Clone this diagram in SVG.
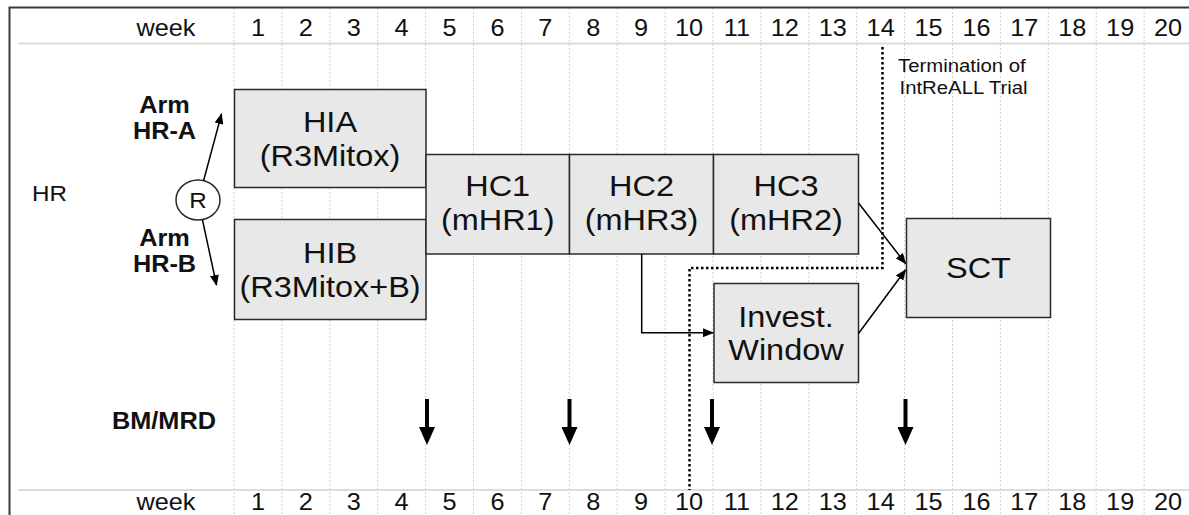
<svg xmlns="http://www.w3.org/2000/svg" width="1189" height="515" viewBox="0 0 1189 515">
<style>
.t{font-family:"Liberation Sans",Arial,sans-serif;fill:#111;text-anchor:middle;transform-box:fill-box;transform-origin:50% 50%;transform:scaleX(1.1)}
.l{text-anchor:start;transform-origin:0% 50%}
.wk{font-size:23px}
.bx{font-size:29.5px}
.bd{font-size:23px;font-weight:bold}
.node rect{fill:#e8e8e8;stroke:#2a2a2a;stroke-width:1.5}
.grid line{stroke:#cfcfcf;stroke-width:1;stroke-dasharray:2 2}
.sep{stroke:#dcdcdc;stroke-width:2}
.conn{stroke:#000;stroke-width:1.5;fill:none}
.thick{stroke:#000;stroke-width:4;fill:none}
.term{stroke:#000;stroke-width:2.5;stroke-dasharray:2.5 2.5;fill:none}
</style>
<defs>
<marker id="ah" markerUnits="userSpaceOnUse" markerWidth="11" markerHeight="9" refX="10" refY="4.5" orient="auto">
<path d="M0,0 L11,4.5 L0,9 z" fill="#000"/>
</marker>
<marker id="ahb" markerUnits="userSpaceOnUse" markerWidth="18" markerHeight="16" refX="8" refY="8" orient="auto">
<path d="M0,0 L18,8 L0,16 z" fill="#000"/>
</marker>
</defs>
<rect width="1189" height="515" fill="#fff"/>
<g class="grid">
<line x1="234" y1="8" x2="234" y2="515"/>
<line x1="281.9" y1="8" x2="281.9" y2="515"/>
<line x1="329.8" y1="8" x2="329.8" y2="515"/>
<line x1="377.7" y1="8" x2="377.7" y2="515"/>
<line x1="425.6" y1="8" x2="425.6" y2="515"/>
<line x1="473.5" y1="8" x2="473.5" y2="515"/>
<line x1="521.4" y1="8" x2="521.4" y2="515"/>
<line x1="569.3" y1="8" x2="569.3" y2="515"/>
<line x1="617.2" y1="8" x2="617.2" y2="515"/>
<line x1="665.1" y1="8" x2="665.1" y2="515"/>
<line x1="713" y1="8" x2="713" y2="515"/>
<line x1="760.9" y1="8" x2="760.9" y2="515"/>
<line x1="808.8" y1="8" x2="808.8" y2="515"/>
<line x1="856.7" y1="8" x2="856.7" y2="515"/>
<line x1="904.6" y1="8" x2="904.6" y2="515"/>
<line x1="952.5" y1="8" x2="952.5" y2="515"/>
<line x1="1000.4" y1="8" x2="1000.4" y2="515"/>
<line x1="1048.3" y1="8" x2="1048.3" y2="515"/>
<line x1="1096.2" y1="8" x2="1096.2" y2="515"/>
<line x1="1144.1" y1="8" x2="1144.1" y2="515"/>
</g>
<line class="sep" x1="18" y1="43.5" x2="1189" y2="43.5"/>
<line class="sep" x1="18" y1="490" x2="1189" y2="490"/>
<path d="M9.5,515 V7.5 H1189" fill="none" stroke="#3a3a3a" stroke-width="2"/>
<g id="header-top">
<text class="t wk" x="166" y="36">week</text>
<text class="t wk" x="257.95" y="36">1</text>
<text class="t wk" x="305.85" y="36">2</text>
<text class="t wk" x="353.75" y="36">3</text>
<text class="t wk" x="401.65" y="36">4</text>
<text class="t wk" x="449.55" y="36">5</text>
<text class="t wk" x="497.45" y="36">6</text>
<text class="t wk" x="545.35" y="36">7</text>
<text class="t wk" x="593.25" y="36">8</text>
<text class="t wk" x="641.15" y="36">9</text>
<text class="t wk" x="689.05" y="36">10</text>
<text class="t wk" x="736.95" y="36">11</text>
<text class="t wk" x="784.85" y="36">12</text>
<text class="t wk" x="832.75" y="36">13</text>
<text class="t wk" x="880.65" y="36">14</text>
<text class="t wk" x="928.55" y="36">15</text>
<text class="t wk" x="976.45" y="36">16</text>
<text class="t wk" x="1024.35" y="36">17</text>
<text class="t wk" x="1072.25" y="36">18</text>
<text class="t wk" x="1120.15" y="36">19</text>
<text class="t wk" x="1168.05" y="36">20</text>
</g>
<g id="header-bottom">
<text class="t wk" x="166" y="510">week</text>
<text class="t wk" x="257.95" y="510">1</text>
<text class="t wk" x="305.85" y="510">2</text>
<text class="t wk" x="353.75" y="510">3</text>
<text class="t wk" x="401.65" y="510">4</text>
<text class="t wk" x="449.55" y="510">5</text>
<text class="t wk" x="497.45" y="510">6</text>
<text class="t wk" x="545.35" y="510">7</text>
<text class="t wk" x="593.25" y="510">8</text>
<text class="t wk" x="641.15" y="510">9</text>
<text class="t wk" x="689.05" y="510">10</text>
<text class="t wk" x="736.95" y="510">11</text>
<text class="t wk" x="784.85" y="510">12</text>
<text class="t wk" x="832.75" y="510">13</text>
<text class="t wk" x="880.65" y="510">14</text>
<text class="t wk" x="928.55" y="510">15</text>
<text class="t wk" x="976.45" y="510">16</text>
<text class="t wk" x="1024.35" y="510">17</text>
<text class="t wk" x="1072.25" y="510">18</text>
<text class="t wk" x="1120.15" y="510">19</text>
<text class="t wk" x="1168.05" y="510">20</text>
</g>
<g id="labels">
<text class="t" x="49.5" y="201.5" font-size="22">HR</text>
<text class="t bd" x="164.5" y="113">Arm</text>
<text class="t bd" x="164.5" y="139">HR-A</text>
<text class="t bd" x="164.5" y="246">Arm</text>
<text class="t bd" x="164.5" y="272">HR-B</text>
<text class="t bd" x="164" y="429.5">BM/MRD</text>
<text class="t l" x="898" y="72" font-size="18.5">Termination of</text>
<text class="t l" x="899.5" y="94.5" font-size="18.5">IntReALL Trial</text>
</g>
<g id="termination-line">
<path class="term" d="M882.5,47 V268 H689.5 V490"/>
</g>
<g id="R" class="node">
<ellipse cx="198" cy="200" rx="22" ry="20" fill="#fff" stroke="#2a2a2a" stroke-width="1.5"/>
<text class="t" x="198" y="208.5" font-size="22">R</text>
</g>
<g id="HIA" class="node">
<rect x="234.5" y="89.5" width="191.5" height="98"/>
<text class="t bx" x="330" y="132">HIA</text>
<text class="t bx" x="330" y="166">(R3Mitox)</text>
</g>
<g id="HIB" class="node">
<rect x="234.5" y="219.5" width="191.5" height="100"/>
<text class="t bx" x="330" y="263">HIB</text>
<text class="t bx" x="330" y="297">(R3Mitox+B)</text>
</g>
<g id="HC1" class="node">
<rect x="426" y="154.5" width="143.5" height="99.5"/>
<text class="t bx" x="497.7" y="196.5">HC1</text>
<text class="t bx" x="497.7" y="230.5">(mHR1)</text>
</g>
<g id="HC2" class="node">
<rect x="569.5" y="154.5" width="144" height="99.5"/>
<text class="t bx" x="641.5" y="196.5">HC2</text>
<text class="t bx" x="641.5" y="230.5">(mHR3)</text>
</g>
<g id="HC3" class="node">
<rect x="713.5" y="154.5" width="145" height="99.5"/>
<text class="t bx" x="786" y="196.5">HC3</text>
<text class="t bx" x="786" y="230.5">(mHR2)</text>
</g>
<g id="InvestWindow" class="node">
<rect x="714" y="283.5" width="144.5" height="99"/>
<text class="t bx" x="786" y="327">Invest.</text>
<text class="t bx" x="786" y="360">Window</text>
</g>
<g id="SCT" class="node">
<rect x="906.5" y="218.5" width="144" height="99"/>
<text class="t bx" x="978.5" y="278.5">SCT</text>
</g>
<g id="connectors">
<line class="conn" x1="203.5" y1="181" x2="221.5" y2="114" marker-end="url(#ah)"/>
<line class="conn" x1="202.5" y1="220" x2="216.5" y2="285" marker-end="url(#ah)"/>
<path class="conn" d="M641.7,254 V332.7 H713" marker-end="url(#ah)"/>
<line class="conn" x1="858.5" y1="203" x2="905.5" y2="263.5" marker-end="url(#ah)"/>
<line class="conn" x1="858.5" y1="333.5" x2="905.5" y2="270" marker-end="url(#ah)"/>
<line class="thick" x1="427" y1="399" x2="427" y2="435" marker-end="url(#ahb)"/>
<line class="thick" x1="569.5" y1="399" x2="569.5" y2="435" marker-end="url(#ahb)"/>
<line class="thick" x1="712" y1="399" x2="712" y2="435" marker-end="url(#ahb)"/>
<line class="thick" x1="905.5" y1="399" x2="905.5" y2="435" marker-end="url(#ahb)"/>
</g>
</svg>
